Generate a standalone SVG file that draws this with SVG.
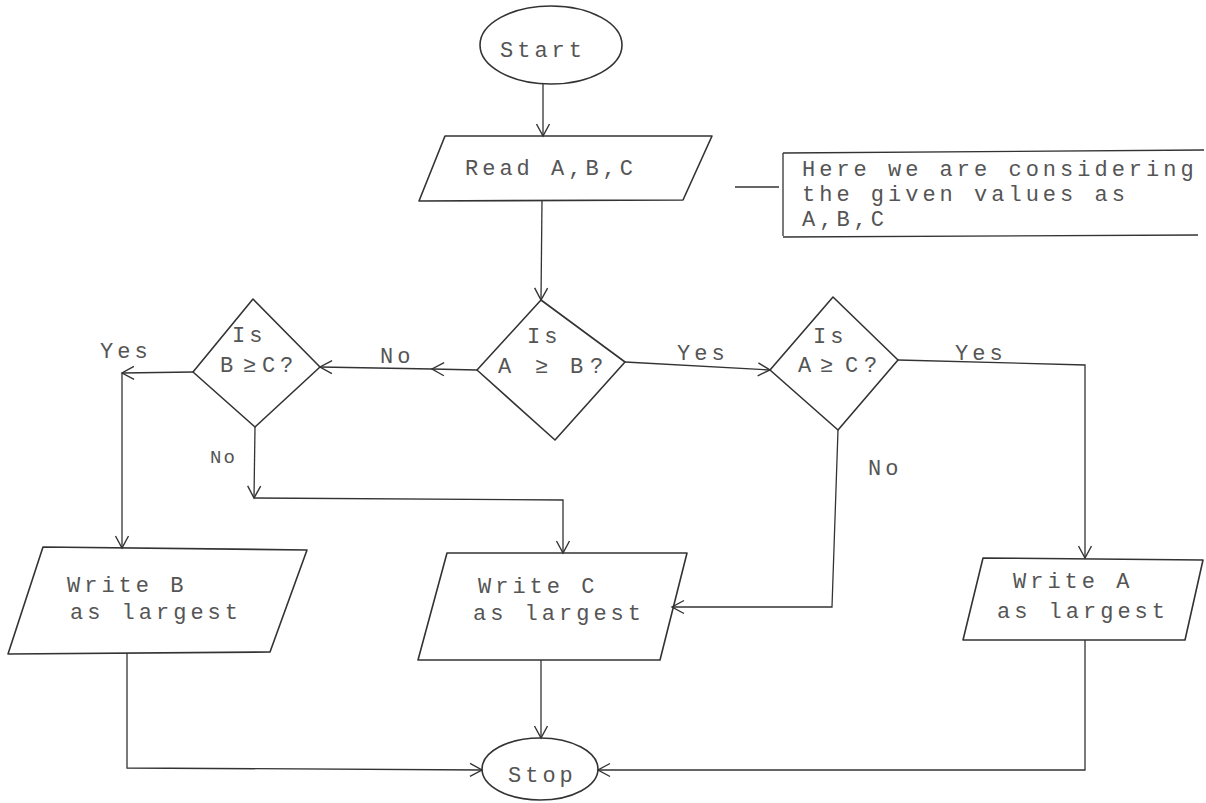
<svg xmlns="http://www.w3.org/2000/svg" width="1206" height="803" viewBox="0 0 1206 803">
<defs>
<style>
.shape{fill:none;stroke:#333;stroke-width:1.6;stroke-linejoin:round}
.conn{fill:none;stroke:#333;stroke-width:1.3}
.t{font-family:"Liberation Mono","DejaVu Sans Mono",monospace;font-size:22px;letter-spacing:4px;fill:#555}
.s{font-size:19px;letter-spacing:2px}
</style>
<marker id="arr" viewBox="0 0 16 16" refX="14" refY="8" markerWidth="16" markerHeight="16" markerUnits="userSpaceOnUse" orient="auto">
<path d="M2,1.5 L14,8 L2,14.5" fill="none" stroke="#333" stroke-width="1.4"/>
</marker>
</defs>
<rect width="1206" height="803" fill="#fff"/>

<g id="connectors">
<path class="conn" d="M543,84 L543,136" marker-end="url(#arr)"/>
<path class="conn" d="M542,200 L541,300" marker-end="url(#arr)"/>
<path class="conn" d="M477,370 L432,369 L320,367" marker-mid="url(#arr)" marker-end="url(#arr)"/>
<path class="conn" d="M193,372 L122,373" marker-end="url(#arr)"/>
<path class="conn" d="M122,373 L122,548" marker-end="url(#arr)"/>
<path class="conn" d="M255,427 L254,498" marker-end="url(#arr)"/>
<path class="conn" d="M254,498 L563,500 L563,553" marker-end="url(#arr)"/>
<path class="conn" d="M625,362 L770,370" marker-end="url(#arr)"/>
<path class="conn" d="M898,360 L1085,365 L1085,558" marker-end="url(#arr)"/>
<path class="conn" d="M838,430 L832,607 L672,607" marker-end="url(#arr)"/>
<path class="conn" d="M127,653 L127,768 L482,770" marker-end="url(#arr)"/>
<path class="conn" d="M541,660 L541,738" marker-end="url(#arr)"/>
<path class="conn" d="M1085,640 L1085,770 L598,770" marker-end="url(#arr)"/>
<path class="conn" d="M735,187 L779,187"/>
<text class="t" x="380" y="363">No</text>
<text class="t" x="100" y="358">Yes</text>
<text class="t s" x="210" y="463">No</text>
<text class="t" x="677" y="360">Yes</text>
<text class="t" x="955" y="360">Yes</text>
<text class="t" x="868" y="475">No</text>
</g>

<g id="start">
<ellipse class="shape" cx="551" cy="45" rx="71" ry="39"/>
<text class="t" x="500" y="57">Start</text>
</g>

<g id="read">
<path class="shape" d="M445,136 L712,136 L683,200 L419,201 Z"/>
<text class="t" x="465" y="175">Read A,B,C</text>
</g>

<g id="note">
<path class="conn" d="M783,153 L1204,150 M783,153 L783,236 M783,237 L1198,235"/>
<text class="t" x="802" y="176">Here we are considering</text>
<text class="t" x="802" y="201">the given values  as</text>
<text class="t" x="802" y="226">A,B,C</text>
</g>

<g id="dec-ab">
<path class="shape" d="M541,300 L625,362 L555,440 L477,370 Z"/>
<text class="t" x="527" y="343">Is</text>
<text class="t" x="498 535 570 590" y="373">A≥B?</text>
</g>

<g id="dec-ac">
<path class="shape" d="M833,297 L898,360 L838,430 L770,370 Z"/>
<text class="t" x="813" y="343">Is</text>
<text class="t" x="798 820 845 864" y="372">A≥C?</text>
</g>

<g id="dec-bc">
<path class="shape" d="M253,299 L320,367 L255,427 L193,372 Z"/>
<text class="t" x="232" y="342">Is</text>
<text class="t" x="220 243 262 280" y="372">B≥C?</text>
</g>

<g id="write-b">
<path class="shape" d="M43,547 L307,550 L270,652 L8,654 Z"/>
<text class="t" x="67" y="592">Write B</text>
<text class="t" x="70" y="619">as largest</text>
</g>

<g id="write-c">
<path class="shape" d="M447,553 L687,553 L660,660 L418,660 Z"/>
<text class="t" x="478" y="593">Write C</text>
<text class="t" x="473" y="620">as largest</text>
</g>

<g id="write-a">
<path class="shape" d="M983,558 L1203,560 L1185,640 L963,640 Z"/>
<text class="t" x="1013" y="588">Write A</text>
<text class="t" x="997" y="618">as largest</text>
</g>

<g id="stop">
<ellipse class="shape" cx="540" cy="769" rx="58" ry="31"/>
<text class="t" x="508" y="782">Stop</text>
</g>
</svg>
